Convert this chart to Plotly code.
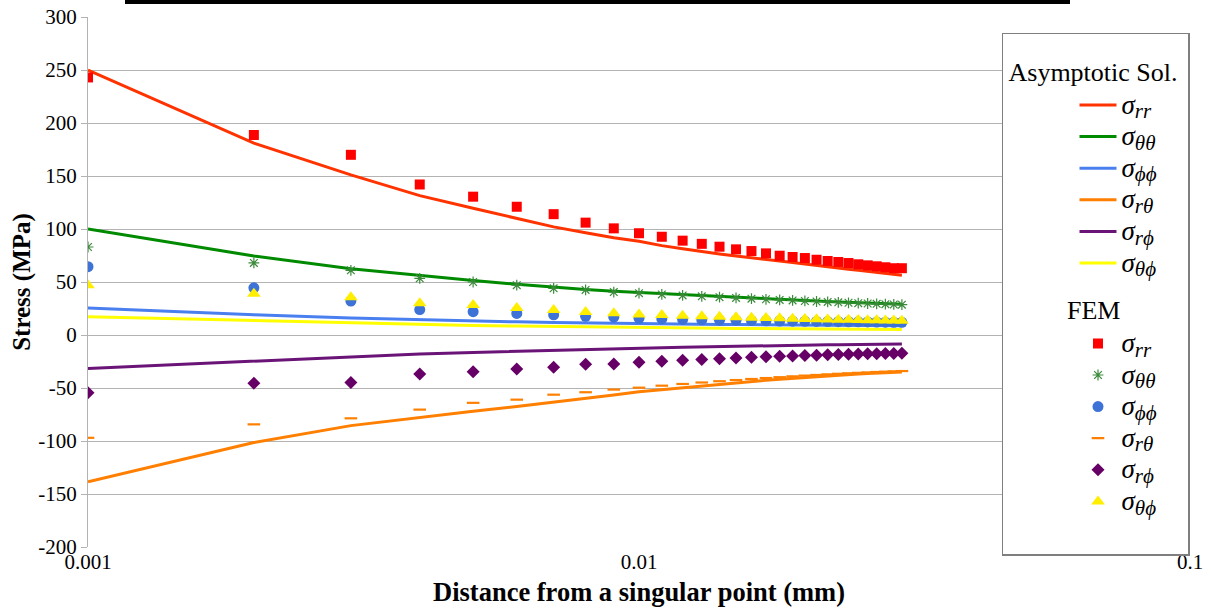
import plotly.graph_objects as go

# Distance from a singular point (mm)
distance = [0.001, 0.002, 0.003, 0.004, 0.005, 0.006, 0.007, 0.008, 0.009, 0.010,
            0.011, 0.012, 0.013, 0.014, 0.015, 0.016, 0.017, 0.018, 0.019, 0.020,
            0.021, 0.022, 0.023, 0.024, 0.025, 0.026, 0.027, 0.028, 0.029, 0.030]

# Asymptotic solution (MPa)
asym_rr = [250, 181, 151, 131.5, 119.5, 110, 102, 96.5, 91.8, 88.5,
           84.3, 81.4, 78.6, 76.5, 74.5, 73, 71.5, 70, 68.5, 67,
           65.5, 64, 63, 62, 61, 60, 59, 58, 57, 56.3]
asym_tt = [100, 74.5, 62.5, 56, 51.5, 47.8, 45, 43, 41.2, 40,
           38.8, 37.8, 37, 36.2, 35.5, 34.8, 34.2, 33.6, 33, 32.5,
           32, 31.6, 31.2, 30.8, 30.4, 30, 29.7, 29.4, 29.2, 29]
asym_pp = [25.5, 19, 16, 14.3, 13.2, 12.4, 11.8, 11.3, 11, 10.7,
           10.5, 10.3, 10.1, 9.9, 9.8, 9.7, 9.6, 9.5, 9.4, 9.3,
           9.2, 9.1, 9.0, 9.0, 8.9, 8.9, 8.8, 8.8, 8.7, 8.7]
asym_rt = [-138.5, -101.5, -85.5, -77.5, -72, -67.5, -63.5, -60, -56.5, -53.5,
           -51.5, -49.5, -47.8, -46.3, -45, -43.8, -42.7, -41.7, -40.8, -40,
           -39.3, -38.6, -38, -37.4, -36.9, -36.4, -36, -35.6, -35.3, -35]
asym_rp = [-31.5, -24.5, -20.3, -17.9, -16.5, -15.3, -14.3, -13.5, -12.9, -12.5,
           -12.0, -11.6, -11.2, -10.9, -10.6, -10.3, -10.1, -9.9, -9.7, -9.5,
           -9.4, -9.2, -9.1, -9.0, -8.9, -8.8, -8.7, -8.6, -8.5, -8.5]
asym_tp = [17.3, 13.5, 11.3, 9.9, 9, 8.4, 7.9, 7.5, 7.2, 7,
           6.8, 6.6, 6.5, 6.3, 6.2, 6.1, 6.0, 5.9, 5.8, 5.8,
           5.7, 5.6, 5.6, 5.5, 5.5, 5.4, 5.4, 5.3, 5.3, 5.3]

# FEM results (MPa)
fem_rr = [243, 188.7, 170, 142, 130.5, 121, 114, 106, 100.6, 96,
          92.7, 89, 86, 83.3, 80.8, 79.2, 77, 74.8, 73.6, 72.6,
          71, 69.8, 68.9, 67.9, 66.7, 65.7, 64.8, 63.9, 63, 63]
fem_tt = [83, 68, 61, 53.5, 50, 47, 44, 42.5, 40.5, 39.5,
          38.3, 37.3, 36.5, 35.7, 35, 34.3, 33.7, 33.1, 32.6, 32.1,
          31.6, 31.2, 30.8, 30.4, 30, 29.7, 29.4, 29.1, 28.8, 28.6]
fem_pp = [64.5, 44.5, 32, 24, 22, 20.4, 19, 17.6, 16.8, 15.8,
          15.2, 14.7, 14.3, 14.0, 13.8, 13.6, 13.4, 13.2, 13.0, 12.9,
          12.8, 12.7, 12.6, 12.5, 12.4, 12.3, 12.2, 12.1, 12.0, 12.0]
fem_rt = [-97, -84.3, -78.6, -70.4, -64, -61, -56.3, -54, -51.5, -49.7,
          -47.8, -46.2, -44.8, -43.6, -42.5, -41.5, -40.6, -39.8, -39, -38.3,
          -37.7, -37.1, -36.6, -36.1, -35.7, -35.3, -34.9, -34.6, -34.3, -34]
fem_rp = [-54.5, -45.5, -44.7, -36.8, -34.6, -32, -30.5, -27.7, -27.4, -25.8,
          -24.8, -23.8, -23, -22.3, -21.6, -21, -20.5, -20.1, -19.7, -19.3,
          -19, -18.7, -18.4, -18.2, -18, -17.8, -17.6, -17.5, -17.4, -17.3]
fem_tp = [47, 39, 35.5, 30, 28.3, 25.5, 23.6, 21.6, 20.5, 19.4,
          18.9, 18.2, 17.6, 17.1, 16.7, 16.3, 16.0, 15.7, 15.4, 15.1,
          14.9, 14.7, 14.5, 14.3, 14.1, 14.0, 13.8, 13.7, 13.6, 13.5]

subs = ["rr", "θθ", "ϕϕ", "rθ", "rϕ", "θϕ"]
labels = ['<i><span style="font-size:27px">σ</span><sub><span style="font-size:21px">'
          + s + '</span></sub></i>' for s in subs]
y_ticks = [300, 250, 200, 150, 100, 50, 0, -50, -100, -150, -200]
y_ticktext = ["300", "250", "200", "150", "100", "50", "0", "-50", "-100", "-150", "-200"]
x_ticks = [0.001, 0.01, 0.1]
x_ticktext = ["0.001", "0.01", "0.1"]

line_colors = ["#ff3300", "#008a00", "#4a7ff0", "#ff7f00", "#6b1478", "#ffff00"]
marker_colors = ["#ff0000", "#3a8a3a", "#3d72d6", "#ff8000", "#660066", "#ffee00"]
marker_symbols = ["square", "asterisk-open", "circle", "line-ew-open", "diamond", "triangle-up"]
marker_sizes = [10, 9, 11, 9, 10, 12]

SERIF = "Liberation Serif"
title_font = dict(family=SERIF, size=26, color="black")

fig = go.Figure()
asym = [asym_rr, asym_tt, asym_pp, asym_rt, asym_rp, asym_tp]
fem = [fem_rr, fem_tt, fem_pp, fem_rt, fem_rp, fem_tp]

for i, ys in enumerate(asym):
    fig.add_trace(go.Scatter(
        x=distance, y=ys, mode="lines", name=labels[i],
        line=dict(color=line_colors[i], width=3),
        legendgroup="asym",
        legendgrouptitle=dict(text="Asymptotic Sol.", font=title_font),
    ))

fem_title = "\u00a0" * 9 + "FEM"
for i, ys in enumerate(fem):
    mk = dict(color=marker_colors[i], size=marker_sizes[i], symbol=marker_symbols[i],
              line=dict(width=0))
    if marker_symbols[i] in ("asterisk-open", "line-ew-open"):
        mk["line"] = dict(width=1.2 if i == 1 else 2.2, color=marker_colors[i])
    fig.add_trace(go.Scatter(
        x=distance, y=ys, mode="markers", name=labels[i],
        marker=mk,
        legendgroup="fem",
        legendgrouptitle=dict(text=fem_title, font=title_font),
    ))

# blank spacer entry that pads the bottom of the legend box
fig.add_trace(go.Scatter(
    x=[None], y=[None], mode="markers", name="\u00a0",
    marker=dict(color="rgba(0,0,0,0)", size=1),
    legendgroup="fem", hoverinfo="skip",
))

fig.update_layout(
    width=1211, height=608,
    margin=dict(l=88, r=21, t=17, b=61),
    paper_bgcolor="white", plot_bgcolor="white",
    font=dict(family=SERIF, size=21, color="black"),
    xaxis=dict(
        type="log", range=[-3, -1], automargin=False,
        tickvals=x_ticks, ticktext=x_ticktext,
        showgrid=False, zeroline=False, showline=False,
        ticks="", tickfont=dict(family=SERIF, size=21),
        title=dict(text="<b>Distance from a singular point (mm)</b>",
                   font=dict(family=SERIF, size=26.5), standoff=9),
    ),
    xaxis2=dict(
        type="log", range=[-3, -1], overlaying="x", anchor="free", position=0.4,
        tickvals=x_ticks, showticklabels=False, ticks="outside", ticklen=5,
        tickcolor="#b3b3b3", showgrid=False, zeroline=False, showline=False,
    ),
    yaxis=dict(
        range=[-200, 300], tickvals=y_ticks, ticktext=y_ticktext, automargin=False,
        showgrid=True, gridcolor="#b3b3b3", gridwidth=1,
        zeroline=False, showline=True, linecolor="#b3b3b3", linewidth=1,
        ticks="outside", ticklen=6, tickcolor="#b3b3b3",
        tickfont=dict(family=SERIF, size=21),
        title=dict(text="<b>Stress (MPa)</b>", font=dict(family=SERIF, size=25), standoff=0),
    ),
    legend=dict(
        x=0.8294, xanchor="left", y=0.97, yanchor="top",
        bgcolor="white", bordercolor="#7f7f7f", borderwidth=1.5,
        font=dict(family=SERIF, size=22, color="black"),
        title=dict(text="\u00a0", font=dict(family=SERIF, size=10)),
        tracegroupgap=12, indentation=71, itemwidth=37,
    ),
    shapes=[dict(type="line", xref="paper", yref="paper",
                 x0=(125 - 88) / 1102, x1=(1070 - 88) / 1102,
                 y0=1.0283, y1=1.0283, line=dict(color="black", width=4))],
)

fig.write_html("out.html", config={"displayModeBar": False},
               post_script="document.body.style.margin='0px';")
